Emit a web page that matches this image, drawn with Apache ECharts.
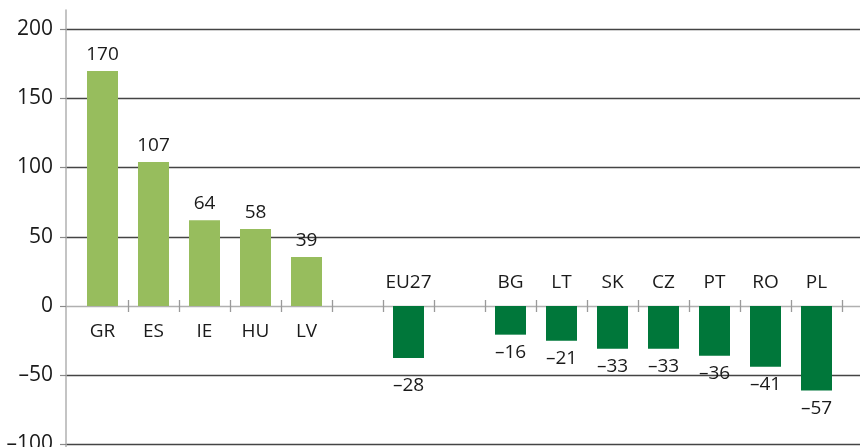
<!DOCTYPE html>
<html><head><meta charset="utf-8">
<script src="https://cdn.jsdelivr.net/npm/echarts@6/dist/echarts.min.js"></script>
<style>html,body{margin:0;padding:0;background:#fff}#c{width:860px;height:447px}</style>
</head><body><div id="c"></div>
<script>
// ---- data ----
const categories = ['GR','ES','IE','HU','LV','','EU27','','BG','LT','SK','CZ','PT','RO','PL'];
const values = [169.6,103.9,62.0,55.6,35.4,null,-37.5,null,-20.7,-25.0,-30.8,-30.8,-35.9,-43.8,-61.1];
const valueLabels = ['170','107','64','58','39','','–28','','–16','–21','–33','–33','–36','–41','–57'];
const yTicks = [-100,-50,0,50,100,150,200];

// ---- styles / layout ----
const lightGreen = '#97bd5d', darkGreen = '#00773a';
const textColor = '#1a1a1a';
const fontFamily = '"Open Sans", "Noto Sans", sans-serif';
const minus = s => String(s).replace('-', '–');

const H = 447;
const gridTop = 29, gridBottom = 2.5;
const yMin = yTicks[0], yMax = yTicks[yTicks.length-1], yStep = yTicks[1]-yTicks[0];
const plotH = H - gridTop - gridBottom;
const zeroY = gridTop + plotH * (yMax - 0) / (yMax - yMin);

const splitColors = yTicks.map(t => t === 0 ? '#b0b0b0' : '#444');

const seriesData = values.map((v,i) => {
  if (v == null) return '-';
  const pos = v >= 0;
  return {
    value: v,
    itemStyle: {color: pos ? lightGreen : darkGreen},
    label: {position: pos ? 'top' : 'bottom', distance: pos ? 7 : (categories[i]==='EU27' ? 18 : 8)}
  };
});

const tickStyle = {show:true, length:6, lineStyle:{color:'#9a9a9a', width:1.3}, interval:(i)=> i !== 0};
const noBounds = {outerBoundsMode:'none', containLabel:false};
const hiddenY = (g) => ({type:'value', gridIndex:g, min:0, max:1, show:false, splitLine:{show:false}});

const chart = echarts.init(document.getElementById('c'), null, {renderer:'canvas'});
chart.setOption({
  animation: false,
  backgroundColor: '#fff',
  grid: [
    Object.assign({left: 66, right: 0, top: gridTop, bottom: gridBottom}, noBounds),
    Object.assign({left: 77, right: 18, top: gridTop, bottom: gridBottom}, noBounds),
    Object.assign({left: 66, right: 0, top: 10, bottom: 0}, noBounds),
    Object.assign({left: 77, right: 18, top: gridTop, bottom: H - zeroY}, noBounds),
    Object.assign({left: 77, right: 18, top: zeroY, bottom: gridBottom}, noBounds)
  ],
  xAxis: [
    {type:'value', gridIndex:0, show:false, min:0, max:1},
    {type:'category', gridIndex:1, data:categories, show:false},
    {type:'value', gridIndex:2, show:false, min:0, max:1},
    {type:'category', gridIndex:3, data:categories, position:'bottom',
      axisLine:{show:false, onZero:false}, axisTick: tickStyle,
      axisLabel:{interval:0, margin:16, color:textColor, fontSize:19, fontFamily,
        formatter:(name, i) => values[i] != null && values[i] > 0 ? name : ''}},
    {type:'category', gridIndex:4, data:categories, position:'top',
      axisLine:{show:false, onZero:false}, axisTick: tickStyle,
      axisLabel:{interval:0, margin:14, color:textColor, fontSize:19, fontFamily,
        formatter:(name, i) => values[i] != null && values[i] < 0 ? name : ''}}
  ],
  yAxis: [
    {type:'value', gridIndex:0, min:yMin, max:yMax, interval:yStep,
      axisLine:{show:false},
      axisTick:{show:true, length:6, lineStyle:{color:'#8a8a8a', width:1.2}},
      axisLabel:{margin:13, color:textColor, fontSize:21, fontFamily, padding:[0,0,5,0], formatter: v => minus(v)},
      splitLine:{show:true, lineStyle:{color:splitColors, width:1.3}}},
    {type:'value', gridIndex:1, min:yMin, max:yMax, interval:yStep, show:false, splitLine:{show:false}},
    {type:'value', gridIndex:2, min:0, max:1, interval:1,
      axisLine:{show:true, onZero:false, lineStyle:{color:'#b0b0b0', width:1.5}},
      axisTick:{show:false}, axisLabel:{show:false}, splitLine:{show:false}},
    hiddenY(3),
    hiddenY(4)
  ],
  series: [{
    type:'bar', xAxisIndex:1, yAxisIndex:1, barWidth:31,
    data: seriesData,
    label:{show:true, color:textColor, fontSize:19, fontFamily,
      formatter: p => valueLabels[p.dataIndex]}
  }]
});
</script></body></html>
